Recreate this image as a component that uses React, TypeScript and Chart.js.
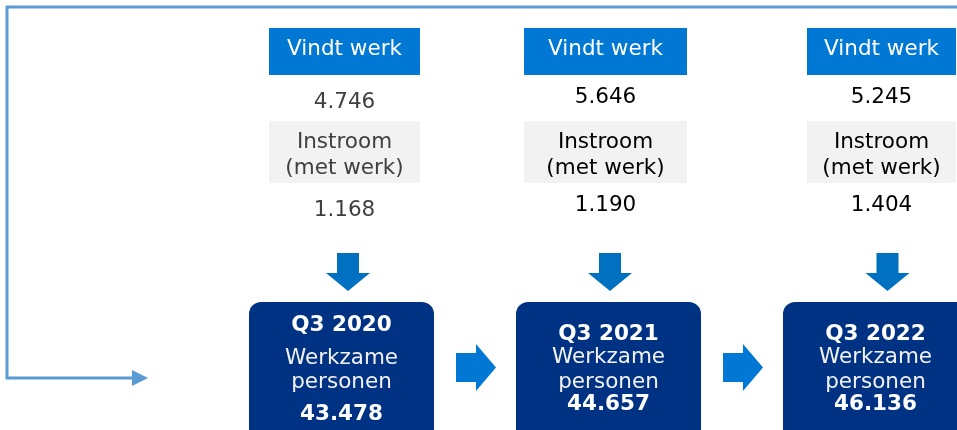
import { useEffect, useRef } from "react";
import { Chart, registerables } from "chart.js";
Chart.register(...registerables);

// ---- data ----
const quarters = ["Q3 2020", "Q3 2021", "Q3 2022"];
const vindtWerk = [4746, 5646, 5245];
const instroomMetWerk = [1168, 1190, 1404];
const werkzamePersonen = [43478, 44657, 46136];
const labelVindt = "Vindt werk";
const labelInstroom = ["Instroom", "(met werk)"];
const labelWerkzame = ["Werkzame", "personen"];

// ---- layout (in scale units, 1 unit = 1 px) ----
const W = 957;
const H = 430;
const labelLeft = [269, 524, 807];
const labelRight = [420, 687, 956];
const numberBaselines = [
  [108, 215.5],
  [102.8, 210.5],
  [102.8, 210.5],
];
const textColors = ["#404040", "#000000", "#000000"];
const downArrowX = [348, 610, 887.5];
const darkLeft = [249, 516, 783];
const darkWidth = 185;
const darkBaselines = [
  [331, 364.3, 387.7, 420],
  [340, 363.3, 387.7, 410],
  [340, 363.3, 387.7, 410],
];
const rightArrowX = [456, 723];

const FONT = '"DejaVu Sans", Verdana, sans-serif';
const FS = "21.5px";

function fmt(n: number): string {
  return String(n).replace(/\B(?=(\d{3})+(?!\d))/g, ".");
}

const diagramPlugin = {
  id: "diagram",
  afterDraw(chart: any) {
    const ctx: CanvasRenderingContext2D = chart.ctx;
    const xs = chart.scales.x;
    const ys = chart.scales.y;
    const X = (v: number) => xs.getPixelForValue(v);
    const Y = (v: number) => ys.getPixelForValue(v);
    ctx.save();

    // outer feedback line
    ctx.strokeStyle = "#5B9BD5";
    ctx.lineWidth = 3;
    ctx.beginPath();
    ctx.moveTo(X(W), Y(7));
    ctx.lineTo(X(7), Y(7));
    ctx.lineTo(X(7), Y(378));
    ctx.lineTo(X(134), Y(378));
    ctx.stroke();
    ctx.fillStyle = "#5B9BD5";
    ctx.beginPath();
    ctx.moveTo(X(132), Y(370));
    ctx.lineTo(X(148), Y(378));
    ctx.lineTo(X(132), Y(386));
    ctx.closePath();
    ctx.fill();

    ctx.textAlign = "center";
    ctx.textBaseline = "alphabetic";

    quarters.forEach((q, i) => {
      const l = labelLeft[i];
      const r = labelRight[i];
      const cx = (l + r) / 2;
      // Vindt werk box
      ctx.fillStyle = "#0078D4";
      ctx.fillRect(X(l), Y(28), X(r) - X(l), Y(75) - Y(28));
      ctx.fillStyle = "#FFFFFF";
      ctx.font = `${FS} ${FONT}`;
      ctx.fillText(labelVindt, X(cx), Y(55));
      // value
      ctx.fillStyle = textColors[i];
      ctx.fillText(fmt(vindtWerk[i]), X(cx), Y(numberBaselines[i][0]));
      // Instroom box
      ctx.fillStyle = "#F2F2F2";
      ctx.fillRect(X(l), Y(121), X(r) - X(l), Y(183) - Y(121));
      ctx.fillStyle = textColors[i];
      ctx.fillText(labelInstroom[0], X(cx), Y(147.7));
      ctx.fillText(labelInstroom[1], X(cx), Y(174));
      ctx.fillText(fmt(instroomMetWerk[i]), X(cx), Y(numberBaselines[i][1]));

      // down arrow
      const ax = downArrowX[i];
      ctx.fillStyle = "#0070C0";
      ctx.beginPath();
      ctx.moveTo(X(ax - 11), Y(253));
      ctx.lineTo(X(ax + 11), Y(253));
      ctx.lineTo(X(ax + 11), Y(273));
      ctx.lineTo(X(ax + 22), Y(273));
      ctx.lineTo(X(ax), Y(291));
      ctx.lineTo(X(ax - 22), Y(273));
      ctx.lineTo(X(ax - 11), Y(273));
      ctx.closePath();
      ctx.fill();

      // dark box
      const dl = darkLeft[i];
      ctx.fillStyle = "#003283";
      ctx.beginPath();
      (ctx as any).roundRect(X(dl), Y(302), X(dl + darkWidth) - X(dl), Y(470) - Y(302), 12);
      ctx.fill();
      const dcx = dl + darkWidth / 2;
      const b = darkBaselines[i];
      ctx.fillStyle = "#FFFFFF";
      ctx.font = `bold ${FS} ${FONT}`;
      ctx.fillText(q, X(dcx), Y(b[0]));
      ctx.font = `${FS} ${FONT}`;
      ctx.fillStyle = "#F2F2F2";
      ctx.fillText(labelWerkzame[0], X(dcx), Y(b[1]));
      ctx.fillText(labelWerkzame[1], X(dcx), Y(b[2]));
      ctx.fillStyle = "#FFFFFF";
      ctx.font = `bold ${FS} ${FONT}`;
      ctx.fillText(fmt(werkzamePersonen[i]), X(dcx), Y(b[3]));
    });

    // right arrows
    rightArrowX.forEach((ax) => {
      ctx.fillStyle = "#0078D4";
      ctx.beginPath();
      ctx.moveTo(X(ax), Y(353));
      ctx.lineTo(X(ax + 20), Y(353));
      ctx.lineTo(X(ax + 20), Y(344));
      ctx.lineTo(X(ax + 40), Y(367.5));
      ctx.lineTo(X(ax + 20), Y(391));
      ctx.lineTo(X(ax + 20), Y(382));
      ctx.lineTo(X(ax), Y(382));
      ctx.closePath();
      ctx.fill();
    });

    ctx.restore();
  },
};

export default function App() {
  const ref = useRef<HTMLCanvasElement | null>(null);
  useEffect(() => {
    document.body.style.margin = "0";
    const canvas = ref.current!;
    const chart = new Chart(canvas, {
      type: "scatter",
      data: {
        datasets: [
          {
            data: quarters.map((_, i) => ({ x: (labelLeft[i] + labelRight[i]) / 2, y: 0 })),
            pointRadius: 0,
          },
        ],
      },
      options: {
        responsive: false,
        animation: false,
        layout: { padding: 0 },
        plugins: { legend: { display: false }, tooltip: { enabled: false } },
        scales: {
          x: { type: "linear", min: 0, max: W, display: false },
          y: { type: "linear", min: 0, max: H, reverse: true, display: false },
        },
      },
      plugins: [diagramPlugin],
    });
    return () => chart.destroy();
  }, []);
  return (
    <div style={{ position: "absolute", left: 0, top: 0, width: W, height: H, background: "#fff" }}>
      <canvas ref={ref} width={W} height={H} style={{ display: "block" }} />
    </div>
  );
}
